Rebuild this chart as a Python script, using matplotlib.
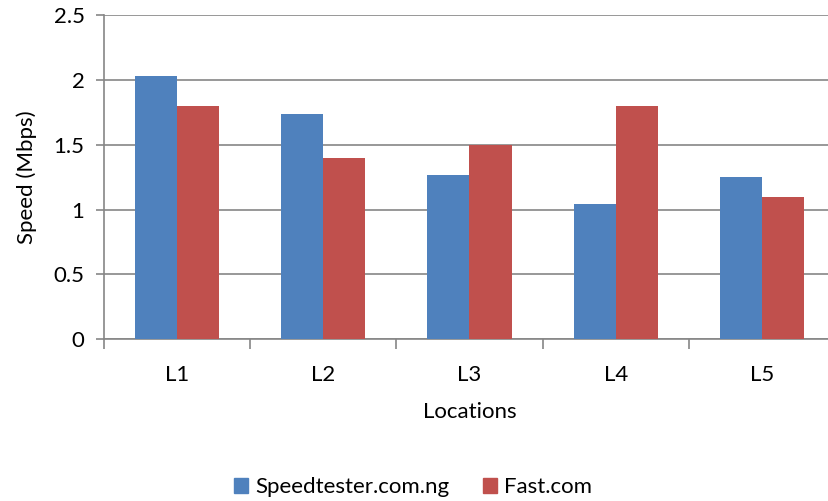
import matplotlib
matplotlib.use("Agg")
import matplotlib.pyplot as plt
import numpy as np
from matplotlib.patches import Patch

plt.rcParams['font.family'] = ['Lato', 'DejaVu Sans']

locations = ["L1", "L2", "L3", "L4", "L5"]
speedtester = [2.03, 1.74, 1.27, 1.04, 1.25]
fastcom = [1.80, 1.40, 1.50, 1.80, 1.10]

blue = "#4F81BD"
red = "#C0504D"
gray = "#868686"
fs = 16

fig = plt.figure(figsize=(8.29, 5.01), dpi=100)
ax = fig.add_axes([104/829, 1-339/501, 731/829, (339-15.3)/501])

x = np.arange(len(locations))
w = 0.288
ax.bar(x - w/2, speedtester, width=w, color=blue, zorder=3)
ax.bar(x + w/2, fastcom, width=w, color=red, zorder=3)

ax.set_xlim(-0.5, 4.5)
ax.set_ylim(0, 2.5)
ax.set_yticks([0, 0.5, 1, 1.5, 2, 2.5])
ax.set_yticklabels(["0", "0.5", "1", "1.5", "2", "2.5"])
ax.yaxis.grid(True, color=gray, linewidth=1.2, zorder=0)
ax.set_axisbelow(True)

ax.set_xticks(x)
ax.set_xticklabels(locations)
ax.set_xticks(np.arange(-0.5, 5, 1), minor=True)
ax.tick_params(axis='x', which='major', length=0, pad=19, labelsize=fs)
ax.tick_params(axis='x', which='minor', length=7, width=1.2, color=gray, direction='out')
ax.tick_params(axis='y', length=6, width=1.2, color=gray, direction='out', labelsize=fs, pad=8)

for s in ['top', 'right']:
    ax.spines[s].set_visible(False)
for s in ['left', 'bottom']:
    ax.spines[s].set_color(gray)
    ax.spines[s].set_linewidth(1.2)

ax.set_xlabel("Locations", fontsize=fs, labelpad=12)
ax.set_ylabel("Speed (Mbps)", fontsize=fs, labelpad=12)

handles = [Patch(color=blue, label="Speedtester.com.ng"), Patch(color=red, label="Fast.com")]
fig.legend(handles=handles, loc='center', bbox_to_anchor=(0.498, 1-487/501), ncol=2,
           frameon=False, fontsize=fs, handlelength=0.65, handleheight=0.65,
           handletextpad=0.3, columnspacing=1.5)

fig.savefig("out.png", dpi=100)
